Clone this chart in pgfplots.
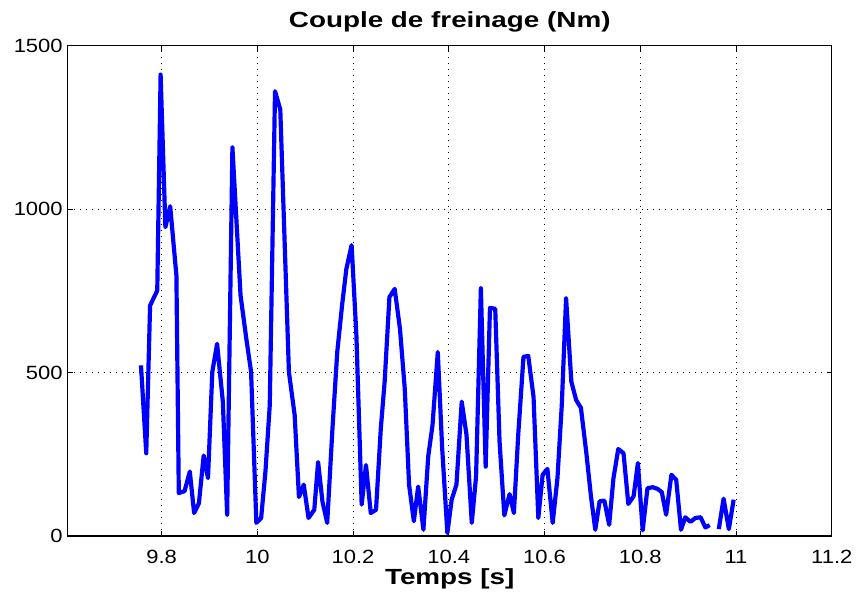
\documentclass[border=0pt]{standalone}
\usepackage{fontspec}
\setmainfont{Liberation Sans}
\newfontfamily\tickfont[FakeStretch=1.15]{Liberation Sans}
\newfontfamily\titlefont[FakeStretch=1.27]{Liberation Sans}
\usepackage{pgfplots}
\pgfplotsset{compat=1.18}
\begin{document}
\begin{tikzpicture}
\begin{axis}[
  scale only axis,
  width=383.5pt, height=246pt,
  xmin=9.604, xmax=11.2, ymin=0, ymax=1500,
  xtick={9.8,10,10.2,10.4,10.6,10.8,11,11.2},
  xticklabels={9.8,10,10.2,10.4,10.6,10.8,11,11.2},
  ytick={0,500,1000,1500},
  yticklabels={0,500,1000,1500},
  tick align=inside,
  major tick length=2.5pt,
  tick style={black, line width=0.4pt},
  xtick pos=both, ytick pos=both,
  grid=major,
  grid style={black, line width=0.4pt, dash pattern=on 0.5pt off 2.5pt},
  axis line style={black, line width=0.6pt},
  tick label style={font=\tickfont\fontsize{9.6}{11}\selectfont},
  /pgf/number format/assume math mode=true,
  xticklabel style={yshift=-3.5pt},
  yticklabel style={xshift=1pt},
  title={Couple de freinage (Nm)},
  title style={font=\titlefont\bfseries\fontsize{11}{13}\selectfont, inner sep=0pt, at={(0.5,1)}, anchor=base, yshift=3pt},
  xlabel={Temps [s]},
  xlabel style={font=\titlefont\bfseries\fontsize{11}{13}\selectfont, inner sep=0pt, at={(0.5,0)}, anchor=base, yshift=-24.5pt},
  unbounded coords=jump,
]
\addplot[blue, line width=2.1pt, line join=round] coordinates {
(9.757,522) (9.768,253) (9.776,705) (9.791,751) (9.798,1412) (9.808,945)
(9.818,1009) (9.831,797) (9.836,131) (9.848,137) (9.859,197) (9.868,70)
(9.878,100) (9.888,246) (9.897,177) (9.906,502) (9.916,588) (9.928,411)
(9.937,65) (9.948,1189) (9.965,736) (9.977,604) (9.987,502) (9.998,40)
(10.008,55) (10.017,197) (10.026,400) (10.037,1361) (10.048,1305) (10.066,502)
(10.078,370) (10.087,119) (10.097,157) (10.107,55) (10.119,80) (10.127,226)
(10.136,106) (10.146,40) (10.157,329) (10.167,563) (10.177,705) (10.186,817)
(10.197,890) (10.207,614) (10.218,96) (10.227,217) (10.237,70) (10.248,80)
(10.258,329) (10.266,472) (10.276,731) (10.287,756) (10.298,634) (10.308,451)
(10.317,157) (10.327,45) (10.336,151) (10.347,19) (10.357,243) (10.366,339)
(10.377,563) (10.386,273) (10.397,9) (10.406,111) (10.416,157) (10.427,411)
(10.437,309) (10.448,40) (10.457,182) (10.467,758) (10.477,212) (10.486,698)
(10.497,695) (10.506,289) (10.516,63) (10.527,128) (10.536,70) (10.545,309)
(10.556,548) (10.566,551) (10.577,426) (10.587,55) (10.596,187) (10.606,205)
(10.617,40) (10.627,177) (10.636,400) (10.645,728) (10.656,472) (10.666,416)
(10.676,392) (10.687,258) (10.697,121) (10.706,19) (10.715,106) (10.725,108)
(10.735,34) (10.744,177) (10.754,266) (10.765,253) (10.775,98) (10.786,121)
(10.795,223) (10.805,17) (10.815,146) (10.826,149) (10.836,144) (10.845,134)
(10.854,65) (10.865,187) (10.875,172) (10.885,19) (10.894,57) (10.905,43)
(10.915,55) (10.926,57) (10.936,26) (10.945,33) (10.955,nan)
(10.964,21) (10.974,114) (10.985,21) (10.995,111)
};
\end{axis}
\path (current axis.south west) ++(-34pt,-29pt) coordinate (bbA);
\path (current axis.north east) ++(12pt,23pt) coordinate (bbB);
\path (bbA) rectangle (bbB);
\end{tikzpicture}
\end{document}
